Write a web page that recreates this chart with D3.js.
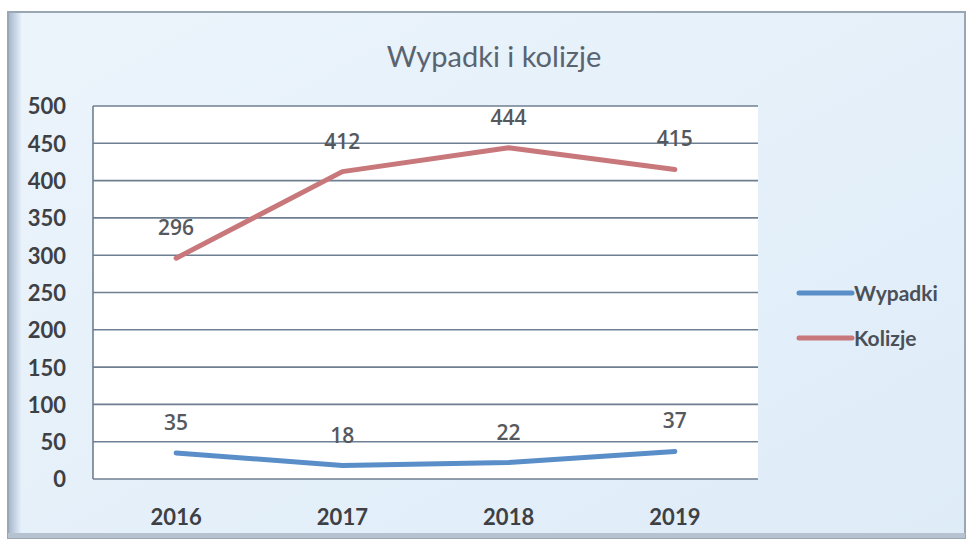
<!DOCTYPE html>
<html>
<head>
<meta charset="utf-8">
<script src="https://cdn.jsdelivr.net/npm/d3@7"></script>
<style>
  body { margin: 0; background: #ffffff; }
  svg { display: block; font-family: Lato, "Open Sans", sans-serif; }
</style>
</head>
<body>
<div id="chart"></div>
<script>
const years = ["2016", "2017", "2018", "2019"];
const wypadki = [35, 18, 22, 37];
const kolizje = [296, 412, 444, 415];
const yTicks = [0, 50, 100, 150, 200, 250, 300, 350, 400, 450, 500];
const seriesNames = ["Wypadki", "Kolizje"];

const W = 970, H = 542;
const plot = { left: 93, right: 758, top: 106, bottom: 479 };

const svg = d3.select("#chart").append("svg")
    .attr("width", W)
    .attr("height", H);

const defs = svg.append("defs");
const grad = defs.append("linearGradient")
    .attr("id", "bg").attr("x1", 0).attr("y1", 0).attr("x2", 1).attr("y2", 1);
grad.append("stop").attr("offset", "0%").attr("stop-color", "#ecf4fb");
grad.append("stop").attr("offset", "100%").attr("stop-color", "#deecf8");

const edge = defs.append("linearGradient")
    .attr("id", "edge").attr("x1", 0).attr("x2", 1);
edge.append("stop").attr("offset", "0%").attr("stop-color", "#a9b8cf");
edge.append("stop").attr("offset", "100%").attr("stop-color", "#e3eef8");

// chart frame
svg.append("rect")
    .attr("x", 8).attr("y", 12)
    .attr("width", 957).attr("height", 526)
    .attr("fill", "url(#bg)")
    .attr("stroke", "#9aa6b4")
    .attr("stroke-width", 2);

svg.append("rect")
    .attr("x", 9).attr("y", 13)
    .attr("width", 12).attr("height", 524)
    .attr("fill", "url(#edge)");

svg.append("rect")
    .attr("x", 8).attr("y", 533)
    .attr("width", 957).attr("height", 5)
    .attr("fill", "#b7c2d0");

// title
svg.append("text")
    .attr("x", 494).attr("y", 67)
    .attr("text-anchor", "middle")
    .attr("font-size", 29)
    .attr("fill", "#596470")
    .text("Wypadki i kolizje");

const x = d3.scaleBand()
    .domain(years)
    .range([plot.left, plot.right]);

const y = d3.scaleLinear()
    .domain([0, 500])
    .range([plot.bottom, plot.top]);

// plot area
svg.append("rect")
    .attr("x", plot.left).attr("y", plot.top)
    .attr("width", plot.right - plot.left)
    .attr("height", plot.bottom - plot.top)
    .attr("fill", "#ffffff");

// gridlines
svg.append("g")
    .selectAll("line")
    .data(yTicks)
    .join("line")
    .attr("x1", plot.left).attr("x2", plot.right)
    .attr("y1", d => y(d)).attr("y2", d => y(d))
    .attr("stroke", "#6f7f92")
    .attr("stroke-width", 1.6);

svg.append("line")
    .attr("x1", plot.left).attr("x2", plot.left)
    .attr("y1", plot.top).attr("y2", plot.bottom)
    .attr("stroke", "#6f7f92")
    .attr("stroke-width", 1.6);

// y axis labels
const yAxis = svg.append("g")
    .attr("transform", `translate(${plot.left - 27},0)`)
    .call(d3.axisLeft(y).tickValues(yTicks).tickSize(0).tickPadding(0));
yAxis.select(".domain").remove();
yAxis.selectAll("text")
    .attr("font-family", "Lato, sans-serif")
    .attr("font-size", 22)
    .attr("font-weight", "bold")
    .attr("fill", "#3d4044")
    .attr("dy", "0.36em");

// x axis labels
const xAxis = svg.append("g")
    .attr("transform", `translate(0,${plot.bottom + 26})`)
    .call(d3.axisBottom(x).tickSize(0).tickPadding(0));
xAxis.select(".domain").remove();
xAxis.selectAll("text")
    .attr("font-family", "Lato, sans-serif")
    .attr("font-size", 22)
    .attr("font-weight", "bold")
    .attr("fill", "#3d4044")
    .attr("dy", "0.9em");

const color = d3.scaleOrdinal()
    .domain(seriesNames)
    .range(["#5a8ec8", "#c8777b"]);

const line = d3.line()
    .x((d, i) => x(years[i]) + x.bandwidth() / 2)
    .y(d => y(d));

const series = [
    { name: "Wypadki", values: wypadki },
    { name: "Kolizje", values: kolizje }
];

svg.append("g")
    .selectAll("path")
    .data(series)
    .join("path")
    .attr("fill", "none")
    .attr("stroke", d => color(d.name))
    .attr("stroke-width", 5)
    .attr("stroke-linecap", "round")
    .attr("stroke-linejoin", "round")
    .attr("d", d => line(d.values));

// data labels
series.forEach(s => {
    svg.append("g")
        .selectAll("text")
        .data(s.values)
        .join("text")
        .attr("x", (d, i) => x(years[i]) + x.bandwidth() / 2)
        .attr("y", d => y(d) - 23)
        .attr("text-anchor", "middle")
        .attr("font-family", "'Open Sans', sans-serif")
        .attr("font-size", 21)
        .attr("font-weight", 600)
        .attr("fill", "#55595e")
        .text(d => d);
});

// legend
const legend = svg.append("g")
    .selectAll("g")
    .data(seriesNames)
    .join("g")
    .attr("transform", (d, i) => `translate(799,${293 + i * 45})`);

legend.append("line")
    .attr("x1", 0).attr("x2", 53)
    .attr("stroke", d => color(d))
    .attr("stroke-width", 5)
    .attr("stroke-linecap", "round");

legend.append("text")
    .attr("x", 55)
    .attr("dy", "0.36em")
    .attr("font-size", 21)
    .attr("font-weight", "bold")
    .attr("fill", "#4b5058")
    .text(d => d);
</script>
</body>
</html>
